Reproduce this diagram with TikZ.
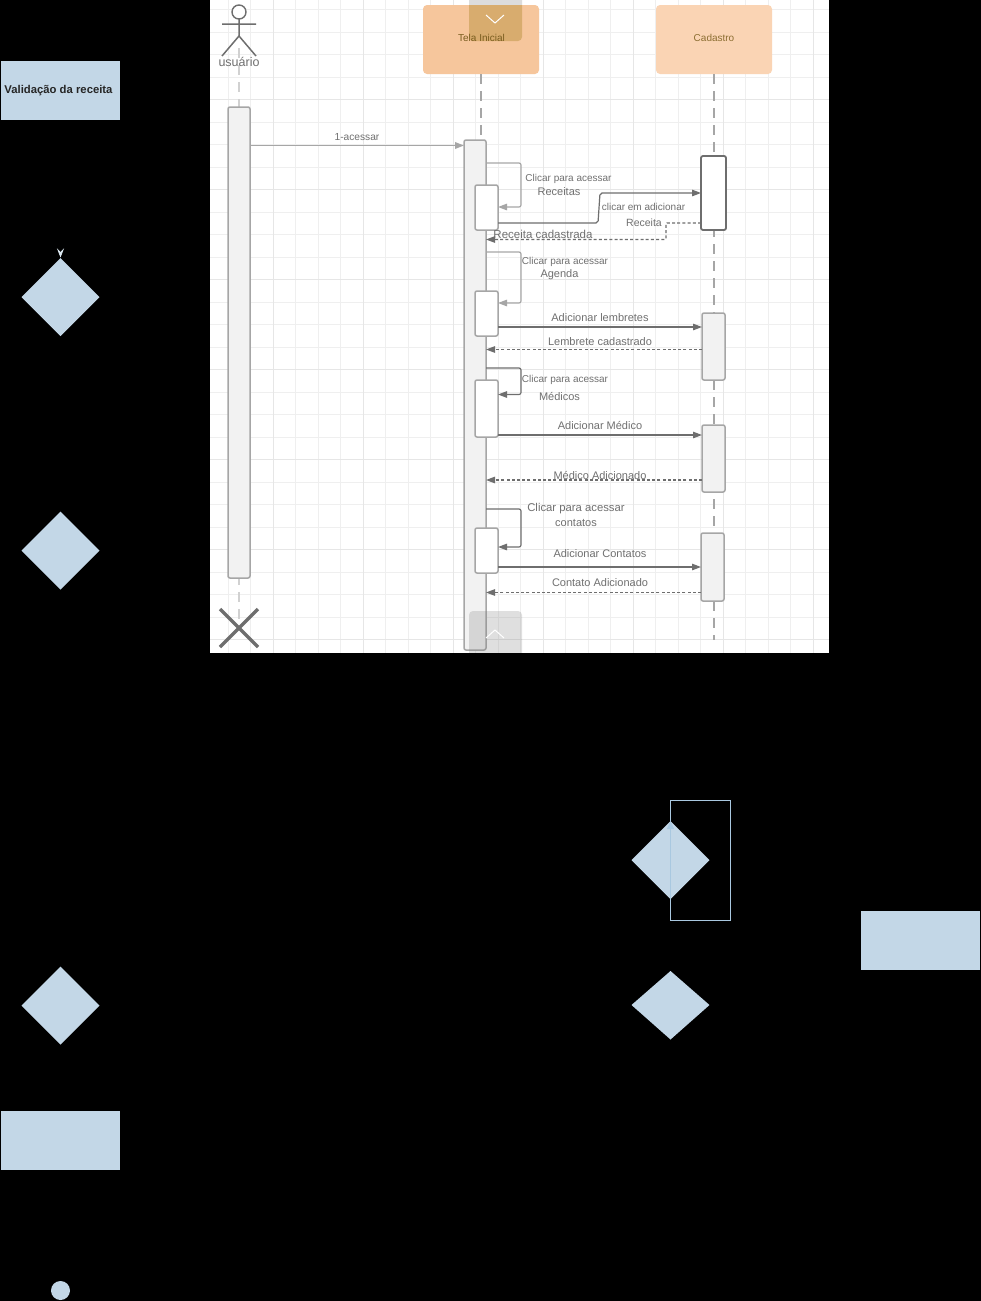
\documentclass[tikz,border=0pt]{standalone}
\usepackage{fontspec}
\setmainfont{Liberation Sans}
\usetikzlibrary{arrows.meta,calc}
\definecolor{flow}{HTML}{C3D7E7}
\definecolor{flowline}{HTML}{A9C8E0}
\definecolor{flowtip}{HTML}{DCE8F1}
\definecolor{gridminor}{HTML}{EFEFEF}
\definecolor{gridmajor}{HTML}{E6E6E6}
\definecolor{lineA}{HTML}{A6A6A6}
\definecolor{lineB}{HTML}{6E6E6E}
\definecolor{txt}{HTML}{707070}
\definecolor{headA}{HTML}{F6C69C}
\definecolor{headB}{HTML}{FAD4B4}
\definecolor{tabmix}{HTML}{D8AC6E}
\definecolor{tabtop}{HTML}{DCDCDC}
\definecolor{headtxtA}{HTML}{785C1E}
\definecolor{headtxtB}{HTML}{8C6E32}
\tikzset{
  x=1pt,y=-1pt,
  every node/.style={outer sep=0pt,inner sep=0pt},
  flowbox/.style={fill=flow,draw=none,anchor=north west},
  bar/.style={draw=lineA,line width=1.5pt,fill=#1,rounded corners=2pt,anchor=north west},
  bar/.default={black!5},
  head/.style={rounded corners=4pt,draw=none,anchor=north west},
  lab/.style={text=txt,font=\fontsize{#1}{#1}\selectfont,align=center},
  lab/.default={10.5},
  tipA/.style={-{Triangle[length=9pt,width=6.5pt]}},
  msg/.style={draw=lineB,line width=1.2pt,tipA,rounded corners=2pt},
  msgl/.style={draw=lineA,line width=1.2pt,tipA,rounded corners=2pt},
  ret/.style={draw=lineB,line width=1.1pt,dash pattern=on 3pt off 2.2pt,tipA},
  life/.style={draw=lineA,line width=1.2pt,dash pattern=on 10pt off 7pt},
}
\begin{document}
\begin{tikzpicture}
\useasboundingbox (0,0) rectangle (981,1301);
\fill[black] (0,0) rectangle (981,1301);
\fill[white] (210,0) rectangle (829,652.5);
% grid
\begin{scope}
\clip (210,0) rectangle (829,652.5);
\foreach \k in {0,...,27} {\draw[gridminor,line width=.9pt] ({228+22.5*\k},0) -- ({228+22.5*\k},653);}
\foreach \k in {0,...,29} {\draw[gridminor,line width=.9pt] (210,{9.5+22.5*\k}) -- (829,{9.5+22.5*\k});}
\foreach \k in {0,...,6} {\draw[gridmajor,line width=1pt] ({273+90*\k},0) -- ({273+90*\k},653);}
\foreach \k in {0,...,6} {\draw[gridmajor,line width=1pt] (210,{99+90*\k}) -- (829,{99+90*\k});}
\fill[tabtop,rounded corners=4pt] (469,-6) rectangle (522,41);
\end{scope}
% headers
\node[head,fill=headA,minimum width=116pt,minimum height=69pt] (tela) at (423,5) {};
\node[head,fill=headB,minimum width=116pt,minimum height=69pt] (cad) at (656,5) {};
\fill[tabmix] (469,5) -- (522,5) [rounded corners=4pt] -- (522,41) -- (469,41) [sharp corners] -- cycle;
\node[font=\fontsize{10}{10}\selectfont,text=headtxtA] at (481.5,38) {Tela Inicial};
\node[font=\fontsize{10}{10}\selectfont,text=headtxtB] at (714,38) {Cadastro};
\draw[white,line width=1pt] (486,15) -- (495,23) -- (504,15);
% lifelines
\coordinate (uLifeTop) at (239,48);
\coordinate (uLifeEnd) at (239,628);
\coordinate (tLifeEnd) at (481,140);
\coordinate (cLifeEnd) at (714,640);
\draw[life,draw=black!18] (uLifeTop) -- (uLifeEnd);
\draw[life] (tela.south -| tLifeEnd) -- (tLifeEnd);
\draw[life] (cad.south) -- (cLifeEnd);
% actor
\node[circle,draw=lineB,line width=1.4pt,minimum size=14pt,fill=white] (ahead) at (239,12) {};
\coordinate (ahip) at (239,36);
\draw[lineB,line width=1.5pt] (ahead.south) -- (ahip) (222,24) -- (256,24) (222,56) -- (ahip) -- (256,56);
\node[lab=12.5] at (239,62) {usuário};
% activations
\node[bar,minimum width=22pt,minimum height=471pt] (ua) at (228,107) {};
\node[bar,minimum width=22pt,minimum height=510pt] (ta) at (464,140) {};
\node[bar=white,minimum width=23pt,minimum height=45pt] (t1) at (475,185) {};
\node[bar=white,minimum width=23pt,minimum height=45pt] (t2) at (475,291) {};
\node[bar=white,minimum width=23pt,minimum height=57pt] (t3) at (475,380) {};
\node[bar=white,minimum width=23pt,minimum height=45pt] (t4) at (475,528) {};
\node[bar=white,draw=lineB,line width=1.8pt,minimum width=25pt,minimum height=74pt] (c1) at (701,156) {};
\node[bar,minimum width=23pt,minimum height=67pt] (c2) at (702,313) {};
\node[bar,minimum width=23pt,minimum height=67pt] (c3) at (702,425) {};
\node[bar,minimum width=23pt,minimum height=68pt] (c4) at (701,533) {};
% destroy X
\draw[lineB,line width=3.5pt] (220,609) -- (258,647) (220,647) -- (258,609);
% messages
\draw[msgl,line width=1.7pt] (ua.east |- 0,145.5) -- (ta.west |- 0,145.5);
\draw[msgl] (ta.east |- 0,163) -- (521,163) -- (521,207) -- (t1.east |- 0,207);
\draw[msg] (t1.east |- 0,223) -- (598,223) -- (600,193) -- (c1.west |- 0,193);
\draw[ret,rounded corners=1pt] (c1.west |- 0,223) -- (666,223) -- (666,239.5) -- (ta.east |- 0,239.5);
\draw[msgl] (ta.east |- 0,252) -- (521,252) -- (521,303) -- (t2.east |- 0,303);
\draw[msg] (t2.east |- 0,327) -- (c2.west |- 0,327);
\draw[ret] (c2.west |- 0,349.5) -- (ta.east |- 0,349.5);
\draw[msg] (ta.east |- 0,368) -- (521,368) -- (521,394.5) -- (t3.east |- 0,394.5);
\draw[msg] (t3.east |- 0,435) -- (c3.west |- 0,435);
\draw[ret] (c3.west |- 0,480) -- (ta.east |- 0,480);
\draw[msg] (ta.east |- 0,509) -- (521,509) -- (521,547) -- (t4.east |- 0,547);
\draw[msg] (t4.east |- 0,567) -- (c4.west |- 0,567);
\draw[ret] (c4.west |- 0,592.5) -- (ta.east |- 0,592.5);
% labels
\node[lab=10.2] at (357,137) {1-acessar};
\node[lab=10] at (568.5,179) {Clicar para acessar};
\node[lab=11] at (559,192) {Receitas};
\node[lab=10] at (643.5,207) {clicar em adicionar};
\node[lab=10.5] at (644,222.5) {Receita};
\node[lab=11.5] at (543,234.5) {Receita cadastrada};
\node[lab=10] at (565,262) {Clicar para acessar};
\node[lab=11] at (559.5,274.5) {Agenda};
\node[lab=11] at (600,318) {Adicionar lembretes};
\node[lab=11] at (600,342) {Lembrete cadastrado};
\node[lab=10] at (565,380) {Clicar para acessar};
\node[lab=11] at (559.5,396) {Médicos};
\node[lab=11] at (600,425) {Adicionar Médico};
\node[lab=11] at (600,475) {Médico Adicionado};
\node[lab=11.3] at (576,509) {Clicar para acessar};
\node[lab=11] at (576,522.5) {contatos};
\node[lab=11] at (600,553.5) {Adicionar Contatos};
\node[lab=11] at (600,583) {Contato Adicionado};
% bottom tab
\begin{scope}
\clip (210,0) rectangle (829,652.5);
\fill[gray,opacity=.25,rounded corners=4pt] (469,611) rectangle (522,660);
\draw[white,line width=1pt] (486,638) -- (495,630) -- (504,638);
\end{scope}
% flowchart shapes on black
\node[flowbox,minimum width=119pt,minimum height=59pt] (valid) at (1,61) {};
\node[font=\bfseries\fontsize{11.3}{11.3}\selectfont,text=black!85] at (58.5,90.5) {Validação da receita};
\fill[flow] (21.5,297) -- (60.5,258) -- (99.5,297) -- (60.5,336) -- cycle;
\coordinate (d1top) at (60.5,257.5);
\draw[black,line width=.8pt,-{Stealth[length=9pt,width=7pt,inset=3.5pt,color=flowtip]}] (valid.south) -- (d1top);
\fill[flow] (21.5,550.5) -- (60.5,511.5) -- (99.5,550.5) -- (60.5,589.5) -- cycle;
\fill[flow] (21.5,1005.5) -- (60.5,966.5) -- (99.5,1005.5) -- (60.5,1044.5) -- cycle;
\fill[flow] (631.5,860) -- (670.5,821) -- (709.5,860) -- (670.5,899) -- cycle;
\fill[flow] (631.5,1005) -- (670.5,971) -- (709.5,1005) -- (670.5,1039.5) -- cycle;
\coordinate (dtop) at (670.5,821);
\coordinate (dloopA) at (670.5,800.5);
\coordinate (dloopB) at (730.5,800.5);
\coordinate (dloopC) at (730.5,920);
\coordinate (dloopD) at (670.5,920);
\draw[flowline,line width=.8pt,-{Triangle[length=8pt,width=7pt]}] (dtop) -- (dloopA) -- (dloopB) -- (dloopC) -- (dloopD) -- (dtop);
\node[flowbox,minimum width=119pt,minimum height=59pt] (r2) at (861,911) {};
\node[flowbox,minimum width=119pt,minimum height=59pt] (r3) at (1,1111) {};
\node[circle,fill=flow,minimum size=19pt] (endc) at (60.5,1290.5) {};
\end{tikzpicture}
\end{document}
